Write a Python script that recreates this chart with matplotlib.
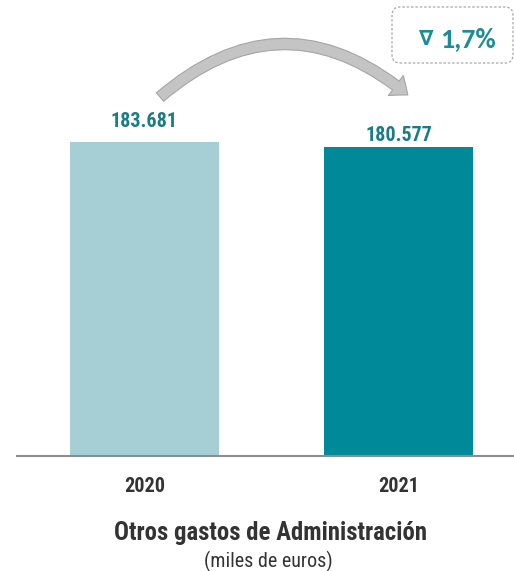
import matplotlib
matplotlib.use("Agg")
import matplotlib.pyplot as plt
from matplotlib.patches import FancyBboxPatch, FancyArrowPatch

years = ["2020", "2021"]
values = [183681, 180577]
value_labels = ["183.681", "180.577"]
bar_colors = ["#A6CFD5", "#008A99"]
change_symbol = "\u2207"
change_value = "1,7%"
title = "Otros gastos de Administración"
subtitle = "(miles de euros)"

narrow = ["Roboto Condensed", "Liberation Sans", "DejaVu Sans"]

W, H = 514, 571
fig = plt.figure(figsize=(W / 100, H / 100), dpi=100)
ax_left, ax_right, ax_bottom = 17, 514, 456
ax = fig.add_axes([ax_left / W, (H - ax_bottom) / H, (ax_right - ax_left) / W, ax_bottom / H])

x = [0, 1]
ax.bar(x, values, width=0.587, color=bar_colors, zorder=2)
ax.set_xlim(-0.502, 1.455)
ax.set_ylim(0, 266760)
for s in ["top", "right", "left"]:
    ax.spines[s].set_visible(False)
ax.spines["bottom"].set_color("#8C8C8C")
ax.spines["bottom"].set_linewidth(1.5)
ax.spines["bottom"].set_zorder(3)
ax.set_yticks([])
ax.set_xticks(x)
ax.set_xticklabels(years, family=narrow, fontweight="bold", fontsize=14.5, color="#333333")
ax.tick_params(axis="x", length=0, pad=15)

offsets = [11, 4.5]
for xi, v, lab, off in zip(x, values, value_labels, offsets):
    ax.annotate(lab, (xi, v), xytext=(0, off), textcoords="offset points",
                ha="center", va="baseline", family=narrow, fontweight="bold",
                fontsize=14.5, color="#1B7C86")

# curved arrow from 2020 to 2021
arrow = FancyArrowPatch((0.061, 210000), (1.037, 211200),
                        connectionstyle="arc3,rad=-0.42",
                        arrowstyle="simple,head_width=18,head_length=11,tail_width=8",
                        facecolor="#C4C4C4", edgecolor="#A5A5A5", linewidth=0.8,
                        shrinkA=0, shrinkB=0,
                        transform=ax.transData, zorder=3, mutation_scale=1)
ax.add_patch(arrow)

# change box
bx0, by0, bx1, by1 = 392, 7, 513, 63
box = FancyBboxPatch((bx0 / W, 1 - by1 / H), (bx1 - bx0) / W, (by1 - by0) / H,
                     boxstyle="round,pad=0,rounding_size=0.015",
                     transform=fig.transFigure, facecolor="white",
                     edgecolor="#A8A8A8", linewidth=0.9, linestyle=(0, (2, 1.5)))
fig.patches.append(box)
fig.text(426 / W, 1 - 38.5 / H, change_symbol, ha="center", va="center",
         fontsize=15, fontweight="bold", color="#1E8C96", family=["DejaVu Sans"])
fig.text(440 / W, 1 - 47 / H, change_value, ha="left", va="baseline",
         fontsize=20, fontweight="bold", color="#1E8C96", family=["Carlito", "Lato", "DejaVu Sans"])

fig.text(270 / W, 1 - 540 / H, title, ha="center", va="baseline", family=narrow,
         fontweight="bold", fontsize=17.8, color="#333333")
fig.text(268 / W, 1 - 567 / H, subtitle, ha="center", va="baseline", family=narrow,
         fontsize=14.5, color="#333333")

fig.savefig("out.png", dpi=100)
